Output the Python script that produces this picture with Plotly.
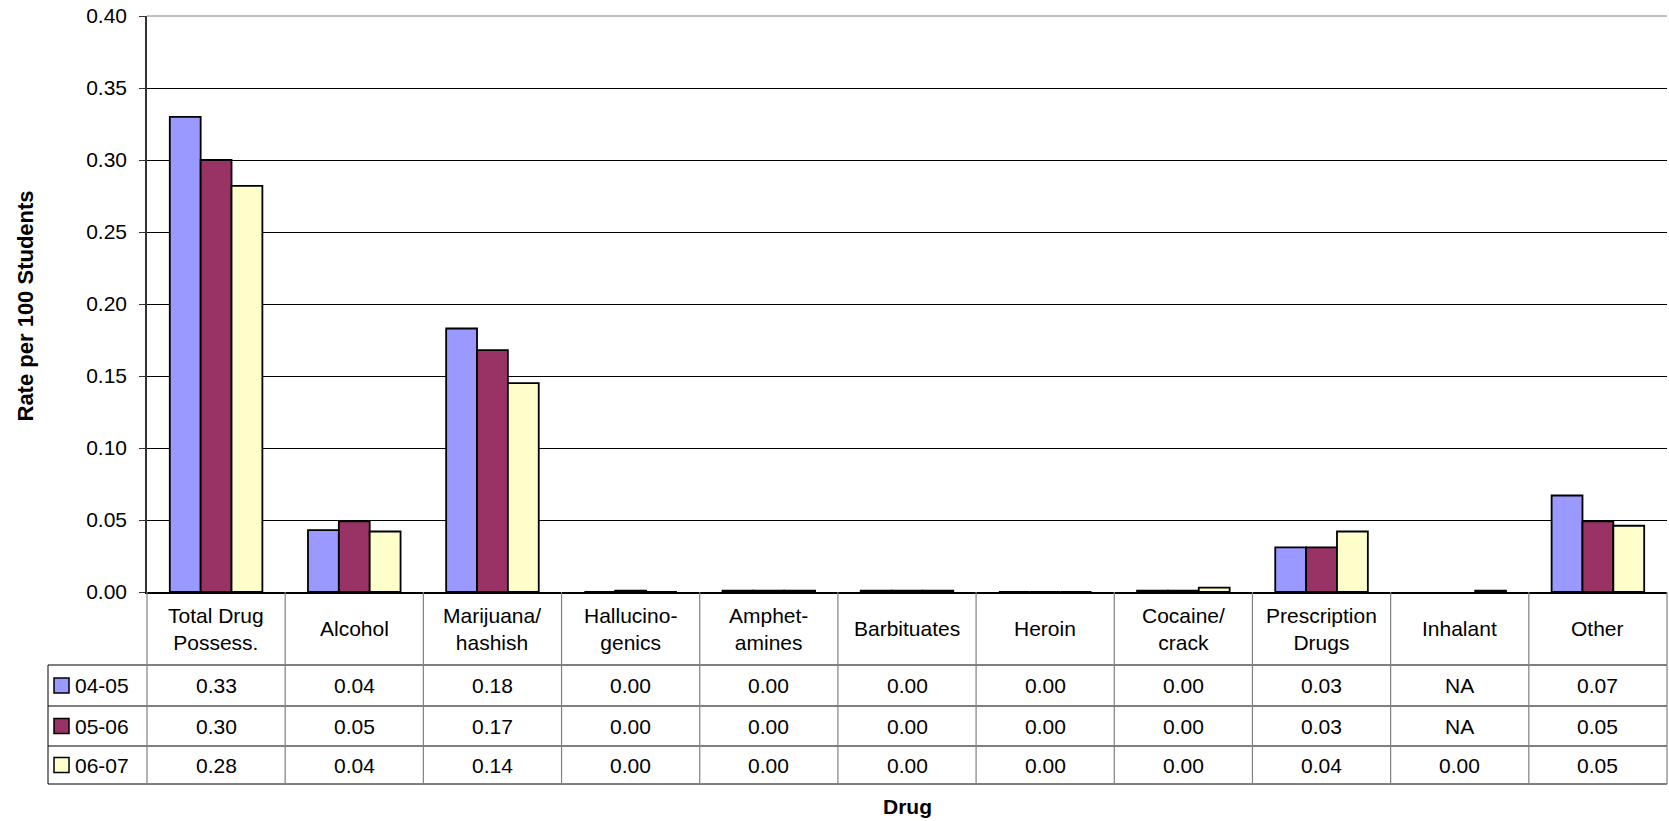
import plotly.graph_objects as go

categories = ["Total Drug Possess.", "Alcohol", "Marijuana/hashish", "Hallucinogenics",
              "Amphetamines", "Barbituates", "Heroin", "Cocaine/crack",
              "Prescription Drugs", "Inhalant", "Other"]
header_labels = ["Total Drug<br>Possess.", "Alcohol", "Marijuana/<br>hashish", "Hallucino-<br>genics",
                 "Amphet-<br>amines", "Barbituates", "Heroin", "Cocaine/<br>crack",
                 "Prescription<br>Drugs", "Inhalant", "Other"]
series_names = ["04-05", "05-06", "06-07"]
colors = ["#9999FF", "#993366", "#FFFFCC"]

v0405 = [0.330, 0.043, 0.183, 0.0, 0.001, 0.001, 0.0, 0.001, 0.031, None, 0.067]
v0506 = [0.300, 0.049, 0.168, 0.001, 0.001, 0.001, 0.0, 0.001, 0.031, None, 0.049]
v0607 = [0.282, 0.042, 0.145, 0.0, 0.001, 0.001, 0.0, 0.003, 0.042, 0.001, 0.046]

t0405 = ["0.33", "0.04", "0.18", "0.00", "0.00", "0.00", "0.00", "0.00", "0.03", "NA", "0.07"]
t0506 = ["0.30", "0.05", "0.17", "0.00", "0.00", "0.00", "0.00", "0.00", "0.03", "NA", "0.05"]
t0607 = ["0.28", "0.04", "0.14", "0.00", "0.00", "0.00", "0.00", "0.00", "0.04", "0.00", "0.05"]

y_ticks = [0.0, 0.05, 0.10, 0.15, 0.20, 0.25, 0.30, 0.35, 0.40]

values = [v0405, v0506, v0607]
texts = [t0405, t0506, t0607]

W, H = 1669, 821
L, R, T, B = 147, 2, 16, 229
PW = W - L - R
PH = H - T - B
FONT = "Liberation Sans, Arial, sans-serif"
FS = 21


def py(pix):
    return (H - B - pix) / PH


def px(pix):
    return (pix - L) / PW


fig = go.Figure()
for name, vals, col in zip(series_names, values, colors):
    fig.add_trace(go.Bar(x=categories, y=vals, name=name, marker_color=col,
                         marker_line_color="black", marker_line_width=1.8,
                         showlegend=False))

n = len(categories)
shapes = []
annotations = []

# top border of plot area
shapes.append(dict(type="line", xref="paper", yref="paper", x0=0, x1=1, y0=1, y1=1,
                   line=dict(color="#808080", width=1)))

# table geometry (pixels)
head_bot, r1, r2, r3 = 665, 706, 746, 784
row_tops = [head_bot, r1, r2]
row_bots = [r1, r2, r3]
leg_left = 48

for yy in [head_bot, r1, r2, r3]:
    shapes.append(dict(type="line", xref="paper", yref="paper", x0=px(leg_left), x1=1,
                       y0=py(yy), y1=py(yy), line=dict(color="black", width=1)))
for k in range(n + 1):
    shapes.append(dict(type="line", xref="paper", yref="paper", x0=k / n, x1=k / n,
                       y0=py(H - B), y1=py(r3), line=dict(color="#808080", width=1.2)))
shapes.append(dict(type="line", xref="paper", yref="paper", x0=px(leg_left), x1=px(leg_left),
                   y0=py(head_bot), y1=py(r3), line=dict(color="black", width=1)))

for i, lab in enumerate(header_labels):
    annotations.append(dict(x=i, xref="x", y=py((H - B + head_bot) / 2), yref="paper",
                            text=lab, showarrow=False, xanchor="center", yanchor="middle",
                            font=dict(family=FONT, size=FS, color="black")))

for s in range(3):
    yc = py((row_tops[s] + row_bots[s]) / 2)
    for i in range(n):
        annotations.append(dict(x=i, xref="x", y=yc, yref="paper", text=texts[s][i],
                                showarrow=False, xanchor="center", yanchor="middle",
                                font=dict(family=FONT, size=FS, color="black")))
    ycp = (row_tops[s] + row_bots[s]) / 2
    shapes.append(dict(type="rect", xref="paper", yref="paper", x0=px(54), x1=px(69),
                       y0=py(ycp + 7.5), y1=py(ycp - 7.5), fillcolor=colors[s],
                       line=dict(color="black", width=1.5)))
    annotations.append(dict(x=px(73), xref="paper", y=yc, yref="paper", text=series_names[s],
                            showarrow=False, xanchor="left", yanchor="middle",
                            font=dict(family=FONT, size=FS, color="black")))

annotations.append(dict(x=0.5, xref="paper", y=py(806), yref="paper", text="<b>Drug</b>",
                        showarrow=False, xanchor="center", yanchor="middle",
                        font=dict(family=FONT, size=FS, color="black")))
annotations.append(dict(x=px(24.5), xref="paper", y=py(306), yref="paper",
                        text="<b>Rate per 100 Students</b>", textangle=-90,
                        showarrow=False, xanchor="center", yanchor="middle",
                        font=dict(family=FONT, size=22, color="black")))

fig.update_layout(
    width=W, height=H,
    margin=dict(l=L, r=R, t=T, b=B, pad=0),
    paper_bgcolor="white", plot_bgcolor="white",
    barmode="group", bargap=0.33, bargroupgap=0,
    font=dict(family=FONT, size=FS, color="black"),
    shapes=shapes, annotations=annotations,
    xaxis=dict(type="category", categoryorder="array", categoryarray=categories,
               range=[-0.5, n - 0.5], showticklabels=False, ticks="",
               showgrid=False, showline=True, linecolor="black", linewidth=1.5,
               zeroline=False),
    yaxis=dict(range=[0, 0.4], tickvals=y_ticks, ticktext=[f"{v:.2f}" for v in y_ticks],
               showgrid=True, gridcolor="black", gridwidth=1,
               showline=True, linecolor="#333333", linewidth=1.5,
               ticks="outside", ticklen=6, tickcolor="#333333", tickwidth=1.2,
               ticklabelstandoff=8, zeroline=False,
               tickfont=dict(family=FONT, size=FS, color="black")),
)

fig.write_html("out.html", config={"displayModeBar": False},
               post_script="document.body.style.margin='0';document.body.style.padding='0';")
